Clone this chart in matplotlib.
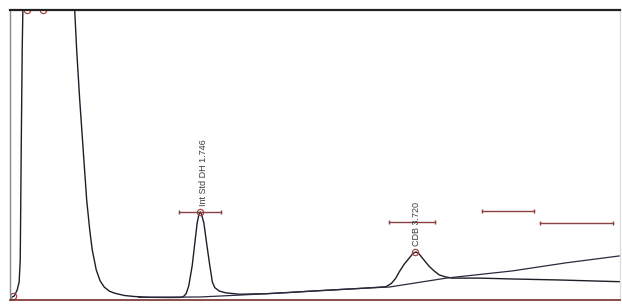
import matplotlib.pyplot as plt

# chromatogram trace (time in min, signal in mV)
sig_time = [0.020, 0.039, 0.066, 0.084, 0.094, 0.103, 0.112, 0.14, 0.50,
            0.575, 0.594, 0.612, 0.640, 0.672, 0.704, 0.732, 0.755, 0.792,
            0.828, 0.865, 0.911, 0.957, 1.049, 1.140, 1.278, 1.462, 1.560,
            1.590, 1.617, 1.641, 1.673, 1.694, 1.718, 1.734, 1.746, 1.758,
            1.780, 1.808, 1.834, 1.858, 1.880, 1.921, 1.980, 2.105, 2.362,
            2.563, 2.775, 3.298, 3.451, 3.500, 3.540, 3.574, 3.620, 3.666,
            3.700, 3.727, 3.755, 3.785, 3.850, 3.900, 3.941, 4.000, 4.061,
            4.309, 4.612, 5.043, 5.594]
sig_mv = [0.35, 0.69, 2.78, 5.56, 13.2, 51.4, 86.1, 150.0, 150.0,
          110.4, 100.0, 86.1, 68.8, 51.4, 34.0, 23.6, 16.7, 9.7,
          5.9, 3.8, 2.4, 1.7, 0.87, 0.52, 0.24, 0.17, 0.2,
          0.4, 1.5, 4.2, 11.3, 18.2, 26.0, 29.0, 29.9, 29.1,
          26.0, 18.2, 11.3, 5.5, 3.6, 2.4, 1.8, 1.3, 1.5,
          1.9, 2.4, 3.5, 3.92, 5.0, 6.8, 9.1, 11.8, 13.9,
          15.5, 16.0, 15.3, 13.9, 10.9, 9.2, 8.0, 7.3, 6.9,
          6.9, 6.6, 6.25, 5.66]

# second (baseline) trace
base_time = [1.18, 1.746, 2.105, 2.362, 2.775, 3.298, 3.482, 4.005, 4.612, 5.104, 5.594]
base_mv = [0.24, 0.35, 1.0, 1.5, 2.4, 3.5, 3.8, 6.9, 9.4, 12.2, 14.6]

# peak markers
mark_time = [0.029, 0.158, 0.305, 1.746, 3.720]
mark_mv = [0.69, 100.0, 100.0, 29.9, 16.0]

# integration bars: (start, end, level)
bar_start = [1.554, 3.482, 4.336, 4.869]
bar_end = [1.939, 3.904, 4.814, 5.539]
bar_level = [29.9, 26.4, 30.2, 26.2]

# peak labels
peak_names = ['Int Std DH 1.746', 'CDB 3.720']
label_time = [1.774, 3.730]
label_mv = [31.9, 18.1]

fig = plt.figure(figsize=(6.22, 3.05), dpi=100)
ax = fig.add_axes([10 / 622, 5 / 305, 610 / 622, 290 / 305])

ax.plot(sig_time, sig_mv, color='#1e1e28', lw=1.0)
ax.plot(base_time, base_mv, color='#2a2a40', lw=0.9)
ax.plot(mark_time, mark_mv, 'o', ms=4.5, mfc='none', mec='#a04848', mew=0.9)

for x0, x1, lv in zip(bar_start, bar_end, bar_level):
    ax.plot([x0, x1], [lv, lv], color='#8a4040', lw=1.0,
            marker='|', ms=3.5, mew=1.0)

for name, x, y in zip(peak_names, label_time, label_mv):
    ax.text(x, y, name, rotation=90, ha='center', va='bottom',
            fontsize=6.5, color='#3c3c3c', family='Liberation Sans')

ax.set_xlim(0, 5.6)
ax.set_ylim(-0.7, 100)
ax.set_xticks([])
ax.set_yticks([])

ax.spines['top'].set_color('#222222')
ax.spines['top'].set_linewidth(1.6)
ax.spines['left'].set_color('#888888')
ax.spines['left'].set_linewidth(1.0)
ax.spines['bottom'].set_color('#7a2c2c')
ax.spines['bottom'].set_linewidth(1.2)
ax.spines['right'].set_color('#dddddd')
ax.spines['right'].set_linewidth(1.0)

fig.savefig('out.png', dpi=100)
